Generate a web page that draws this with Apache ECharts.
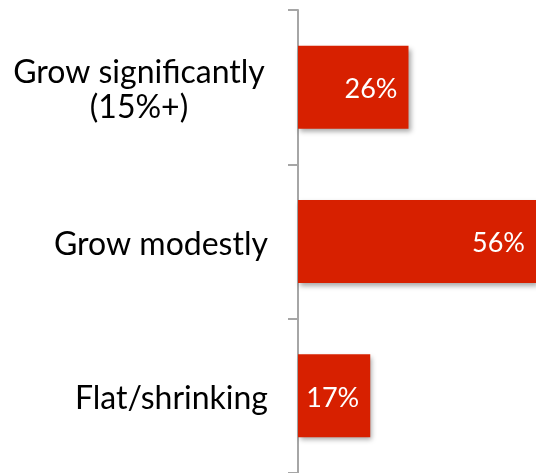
<!DOCTYPE html>
<html>
<head>
<meta charset="utf-8">
<script src="https://cdn.jsdelivr.net/npm/echarts@6/dist/echarts.min.js"></script>
<style>
  html, body { margin: 0; padding: 0; background: #ffffff; }
  #chart { width: 536px; height: 473px; }
</style>
</head>
<body>
<div id="chart"></div>
<script>
// Expected revenue outlook, share of respondents (%)
const categories = ['Grow significantly\n(15%+)', 'Grow modestly', 'Flat/shrinking'];
const shares = [26, 56, 17];

const chart = echarts.init(document.getElementById('chart'), null, { renderer: 'canvas' });

chart.setOption({
  animation: false,
  backgroundColor: '#ffffff',
  grid: { left: 298, right: 0, top: 10, height: 465, containLabel: false },
  xAxis: {
    type: 'value',
    min: 0,
    max: 56,
    show: false
  },
  yAxis: {
    type: 'category',
    inverse: true,
    data: categories,
    axisLine: { show: true, lineStyle: { color: '#a6a6a6', width: 2 } },
    axisTick: { show: true, length: 10, lineStyle: { color: '#a6a6a6', width: 2 } },
    axisLabel: {
      margin: 30,
      color: '#000000',
      fontFamily: 'Lato',
      fontSize: 32,
      lineHeight: 35,
      align: 'right',
      padding: [6, 0, 0, 0],
      // two-line labels are centred line by line; single lines stay right-aligned
      formatter: function (v) {
        if (v.indexOf('\n') < 0) return v;
        return v.split('\n').map(function (line) { return '{c|' + line + '}'; }).join('\n');
      },
      rich: {
        c: { width: 258, align: 'center', fontFamily: 'Lato', fontSize: 32, lineHeight: 35, color: '#000000' }
      }
    }
  },
  series: [{
    type: 'bar',
    data: shares,
    barWidth: 83,
    itemStyle: {
      color: '#d72000',
      shadowColor: 'rgba(0,0,0,0.35)',
      shadowBlur: 5,
      shadowOffsetX: 2,
      shadowOffsetY: 3
    },
    label: {
      show: true,
      position: 'insideRight',
      distance: 11,
      offset: [0, 2],
      color: '#ffffff',
      fontFamily: 'Lato',
      fontSize: 27,
      formatter: '{c}%'
    }
  }]
});
</script>
</body>
</html>
